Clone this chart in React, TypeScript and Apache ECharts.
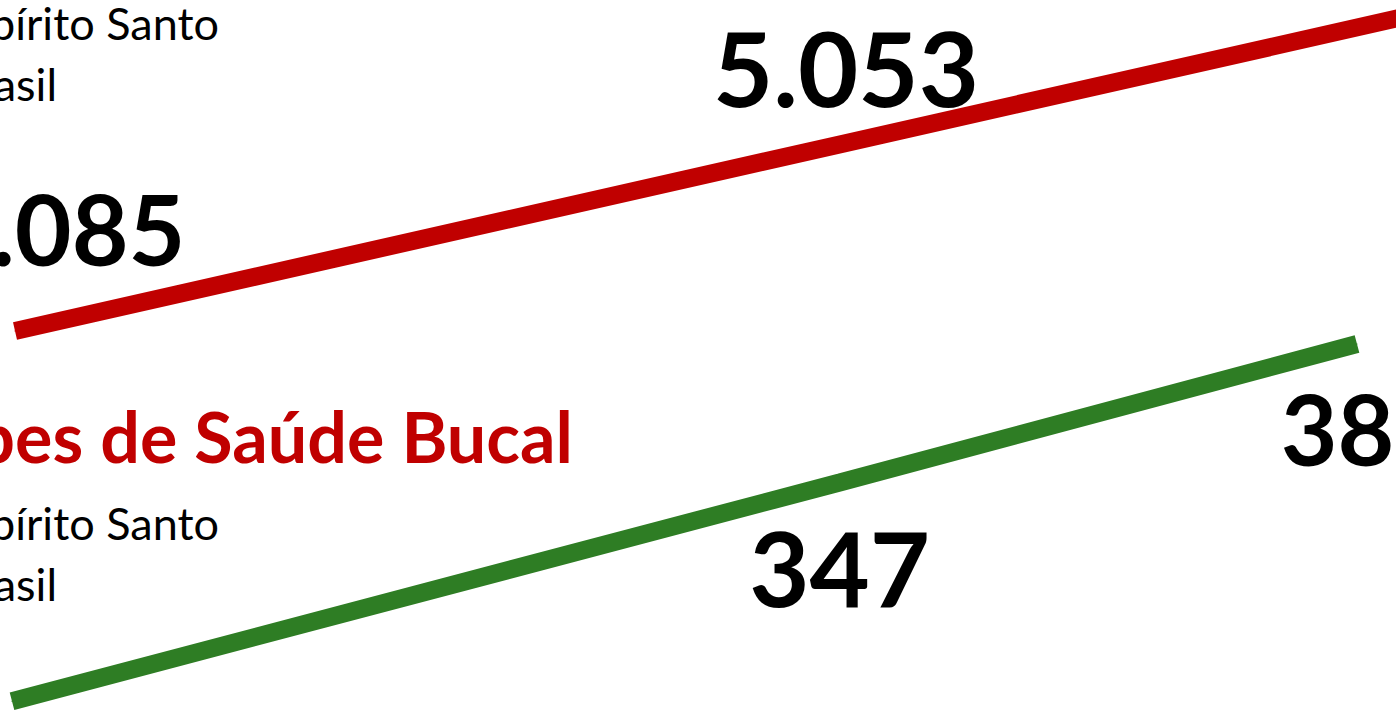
import React, { useEffect, useRef } from "react";
import * as echarts from "echarts";

// Years (x positions) and values for the two panels
const years = [2002, 2010, 2015];
const redYears = [2002, 2010, 2018];
const redValues = [4085, 5053, 6021]; // Equipes (top panel, continues beyond the frame)
const greenValues = [287, 347, 385]; // Equipes de Saúde Bucal
const titleBucal = "Equipes de Saúde Bucal";
const legendNames = ["Espírito Santo", "Brasil"];

const fmt = (v: number) => String(v).replace(/\B(?=(\d{3})+(?!\d))/g, ".");

export default function App() {
  const ref = useRef<HTMLDivElement>(null);
  useEffect(() => {
    if (!ref.current) return;
    const chart = echarts.init(ref.current, undefined, { renderer: "svg" });
    const font = "Lato, 'Noto Sans', sans-serif";
    const lbl = (offset: number[], size: number) => ({
      show: true,
      position: "inside",
      align: "center",
      verticalAlign: "middle",
      offset,
      fontSize: size,
      fontWeight: "bold",
      fontFamily: font,
      color: "#000",
      formatter: (p: any) => fmt(p.value[1]),
    });
    const redLabels: any[] = [lbl([45, -103], 98), lbl([3, -77], 104), { show: false }];
    const greenLabels: any[] = [{ show: false }, lbl([0, 84], 104), lbl([9, 84], 98)];

    const legendStyle = { fontSize: 45, fontFamily: font, fill: "#000", align: "right", verticalAlign: "middle" };
    const option: any = {
      animation: false,
      grid: [
        { left: 0, right: 0, top: 0, bottom: 0 },
        { left: 0, right: 0, top: 0, bottom: 0 },
      ],
      xAxis: [
        { type: "value", gridIndex: 0, min: 2001.855, max: 2015.343, show: false },
        { type: "value", gridIndex: 1, min: 2001.884, max: 2015.377, show: false },
      ],
      yAxis: [
        { type: "value", gridIndex: 0, min: 2121.1, max: 5795.7, show: false },
        { type: "value", gridIndex: 1, min: 284.31, max: 479.38, show: false },
      ],
      series: [
        {
          type: "line",
          xAxisIndex: 0,
          yAxisIndex: 0,
          symbol: "circle",
          symbolSize: 1,
          itemStyle: { color: "#C00000" },
          lineStyle: { color: "#C00000", width: 18, cap: "butt" },
          data: redYears.map((y, i) => ({ value: [y, redValues[i]], label: redLabels[i] })),
          clip: true,
        },
        {
          type: "line",
          xAxisIndex: 1,
          yAxisIndex: 1,
          symbol: "circle",
          symbolSize: 1,
          itemStyle: { color: "#2E7D24" },
          lineStyle: { color: "#2E7D24", width: 18, cap: "butt" },
          data: years.map((y, i) => ({ value: [y, greenValues[i]], label: greenLabels[i] })),
          clip: false,
        },
      ],
      graphic: [
        { type: "text", x: 219, y: 23, style: { ...legendStyle, text: legendNames[0] } },
        { type: "text", x: 57, y: 84, style: { ...legendStyle, text: legendNames[1] } },
        { type: "text", x: 573, y: 436, style: { text: titleBucal, fontSize: 70, fontWeight: "bold", fontFamily: font, fill: "#C00000", align: "right", verticalAlign: "middle" } },
        { type: "text", x: 219, y: 523, style: { ...legendStyle, text: legendNames[0] } },
        { type: "text", x: 57, y: 584, style: { ...legendStyle, text: legendNames[1] } },
      ],
    };
    chart.setOption(option);
    return () => chart.dispose();
  }, []);
  return (
    <div
      ref={ref}
      style={{ position: "fixed", left: 0, top: 0, width: 1396, height: 711, background: "#fff" }}
    />
  );
}
